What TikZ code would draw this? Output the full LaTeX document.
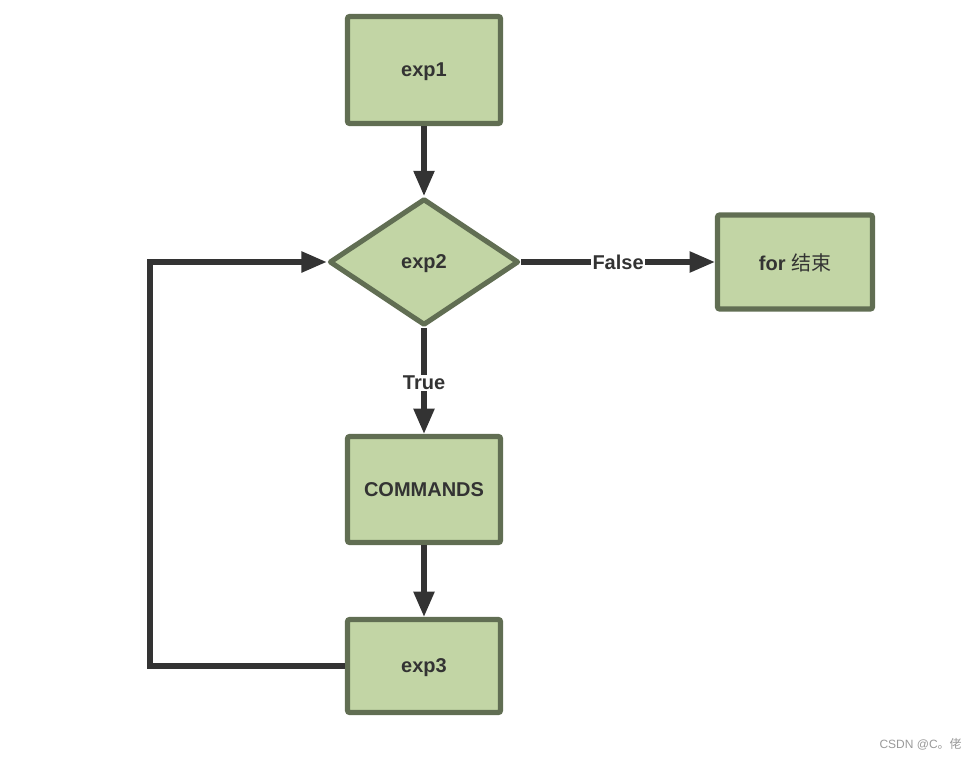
\documentclass[tikz,border=0pt]{standalone}
\usepackage{fontspec}
\setmainfont{Liberation Sans}
\newfontfamily\cjkfont{Noto Sans CJK SC}
\usetikzlibrary{shapes.geometric,arrows.meta}
\definecolor{boxfill}{HTML}{C2D5A5}
\definecolor{boxedge}{HTML}{616E53}
\definecolor{flow}{HTML}{333333}
\definecolor{mark}{HTML}{999999}
\tikzset{
  block/.style={draw=boxedge, fill=boxfill, line width=3.8pt, rounded corners=1.5pt,
    inner sep=0pt, text depth=0pt, font=\fontsize{15pt}{18pt}\selectfont\bfseries, text=flow},
  decision/.style={diamond, draw=boxedge, fill=boxfill, line width=3.8pt, line join=round,
    inner sep=0pt, text depth=0pt, font=\fontsize{15pt}{18pt}\selectfont\bfseries, text=flow},
  flowline/.style={draw=flow, line width=4pt, -{Triangle[length=19pt,width=15pt]}},
  edgelabel/.style={fill=white, inner sep=1pt, text=flow,
    font=\fontsize{15pt}{18pt}\selectfont\bfseries}
}
\begin{document}
\begin{tikzpicture}[x=0.75pt, y=-0.75pt]
  \useasboundingbox (0,0) rectangle (977,759);

  % flowchart blocks
  \node[block, minimum width=114.75pt, minimum height=80.25pt] (exp1) at (424,70) {exp1};
  \node[decision, minimum width=142pt, minimum height=95pt] (exp2) at (424,262) {exp2};
  \node[block, minimum width=116.25pt, minimum height=70.5pt] (end) at (795,262) {for {\cjkfont\mdseries 结束}};
  \node[block, minimum width=114.75pt, minimum height=79.5pt] (cmds) at (424,489.5) {COMMANDS};
  \node[block, minimum width=114.75pt, minimum height=69.75pt] (exp3) at (424,666) {exp3};

  % loop-back corners
  \coordinate (cornerB) at (150,666);
  \coordinate (cornerT) at (150,262);

  % connectors
  \draw[flowline] (exp1.south) -- (exp2.north);
  \draw[flowline] (exp2.east) -- node[edgelabel, pos=0.5] (lblF) {False} (end.west);
  \draw[flowline] (exp2.south) -- node[edgelabel, pos=0.52] (lblT) {True} (cmds.north);
  \draw[flowline] (cmds.south) -- (exp3.north);
  \draw[flowline] (exp3.west) -- (cornerB) -- (cornerT) -- (exp2.west);

  % watermark
  \node[anchor=east, inner sep=0pt, text=mark, font=\fontsize{9pt}{11pt}\selectfont] (wm)
    at (962,744) {CSDN @C{\cjkfont 。佬}};
\end{tikzpicture}
\end{document}
